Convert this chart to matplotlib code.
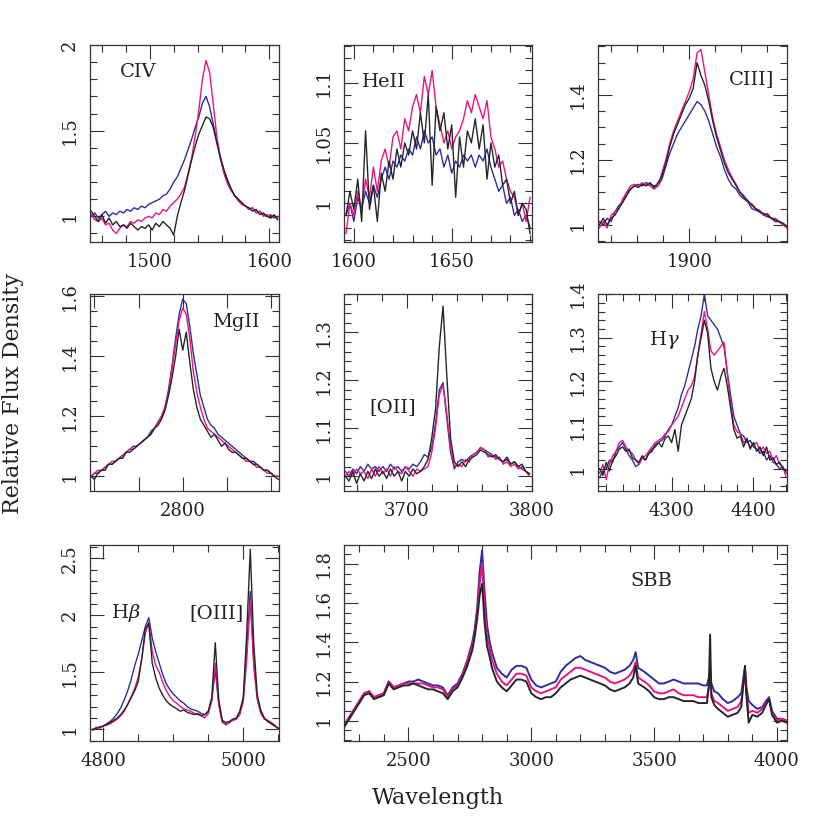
import numpy as np
import matplotlib
matplotlib.use("Agg")
import matplotlib.pyplot as plt
from matplotlib.ticker import MultipleLocator, FuncFormatter

# ---- CIV ----
civ_wave = np.arange(1451, 1608, 3)
civ_blue = [1.00, 1.02, 0.99, 1.01, 1.03, 1.00, 1.02, 1.01, 1.03, 1.02,
            1.04, 1.03, 1.05, 1.04, 1.06, 1.05, 1.07, 1.08, 1.09, 1.10,
            1.12, 1.13, 1.16, 1.20, 1.23, 1.28, 1.33, 1.39, 1.45, 1.52,
            1.58, 1.66, 1.70, 1.64, 1.54, 1.44, 1.35, 1.27, 1.21, 1.16,
            1.12, 1.10, 1.07, 1.06, 1.04, 1.05, 1.02, 1.03, 1.01, 1.00,
            1.01, 0.99, 1.00]
civ_pink = [1.01, 0.98, 0.97, 0.99, 0.95, 0.96, 0.92, 0.90, 0.93, 0.95,
            0.94, 0.97, 0.96, 0.98, 0.97, 0.99, 1.00, 0.99, 1.02, 1.01,
            1.04, 1.03, 1.06, 1.08, 1.10, 1.13, 1.17, 1.25, 1.34, 1.47,
            1.62, 1.80, 1.91, 1.84, 1.66, 1.47, 1.34, 1.25, 1.19, 1.15,
            1.12, 1.09, 1.07, 1.06, 1.04, 1.05, 1.02, 1.03, 1.00, 1.01,
            0.99, 1.00, 0.99]
civ_black = [1.03, 1.00, 0.97, 1.01, 0.96, 0.99, 0.95, 0.97, 0.94, 0.95,
             0.93, 0.96, 0.94, 0.92, 0.94, 0.93, 0.95, 0.92, 0.96, 0.94,
             0.97, 0.95, 0.93, 0.89, 1.00, 1.08, 1.15, 1.24, 1.33, 1.41,
             1.48, 1.53, 1.58, 1.57, 1.52, 1.43, 1.34, 1.27, 1.21, 1.16,
             1.12, 1.10, 1.08, 1.06, 1.05, 1.03, 1.04, 1.01, 1.02, 1.00,
             0.99, 1.01, 0.98]

# ---- HeII ----
heii_wave = np.arange(1596, 1691, 2)
heii_blue = [0.99, 1.00, 0.985, 1.005, 0.995, 1.01, 1.00, 1.015, 1.005, 1.02,
             1.03, 1.02, 1.035, 1.03, 1.04, 1.035, 1.045, 1.04, 1.055, 1.045,
             1.06, 1.05, 1.055, 1.04, 1.045, 1.03, 1.04, 1.025, 1.035, 1.03,
             1.04, 1.035, 1.04, 1.03, 1.04, 1.035, 1.045, 1.03, 1.02, 1.01,
             1.015, 1.00, 1.005, 0.99, 0.995, 0.985, 0.99, 0.98]
heii_pink = [0.975, 1.00, 0.99, 1.01, 0.995, 1.02, 1.005, 1.03, 1.01, 1.035,
             1.045, 1.03, 1.055, 1.06, 1.045, 1.07, 1.06, 1.08, 1.09, 1.075,
             1.105, 1.09, 1.11, 1.08, 1.065, 1.05, 1.06, 1.045, 1.055, 1.06,
             1.07, 1.085, 1.075, 1.09, 1.08, 1.07, 1.085, 1.055, 1.045, 1.03,
             1.035, 1.02, 1.01, 1.005, 0.99, 1.00, 0.985, 1.005]
heii_black = [0.99, 1.01, 0.995, 1.02, 0.985, 1.06, 0.995, 1.015, 0.985, 1.025,
              1.01, 1.035, 1.02, 1.045, 1.03, 1.05, 1.04, 1.06, 1.045, 1.075,
              1.05, 1.09, 1.015, 1.08, 1.06, 1.075, 1.045, 1.065, 1.005, 1.055,
              1.03, 1.06, 1.05, 1.07, 1.045, 1.065, 1.02, 1.05, 1.03, 1.04,
              1.015, 1.02, 1.00, 1.01, 0.99, 1.00, 0.995, 0.975]

# ---- CIII] ----
ciii_wave = np.arange(1831, 1976, 3)
ciii_blue = [1.01, 1.00, 1.02, 1.01, 1.04, 1.06, 1.07, 1.10, 1.11, 1.12,
             1.125, 1.12, 1.13, 1.125, 1.12, 1.12, 1.14, 1.18, 1.22, 1.25,
             1.28, 1.30, 1.32, 1.34, 1.36, 1.38, 1.37, 1.35, 1.32, 1.28,
             1.24, 1.21, 1.17, 1.14, 1.12, 1.11, 1.09, 1.08, 1.07, 1.05,
             1.045, 1.04, 1.03, 1.025, 1.02, 1.01, 1.01, 1.00, 0.995]
ciii_pink = [0.99, 1.01, 0.99, 1.03, 1.04, 1.05, 1.08, 1.10, 1.12, 1.125,
             1.12, 1.13, 1.125, 1.12, 1.11, 1.12, 1.16, 1.20, 1.25, 1.29,
             1.32, 1.35, 1.38, 1.41, 1.45, 1.53, 1.54, 1.47, 1.40, 1.33,
             1.28, 1.24, 1.20, 1.17, 1.145, 1.125, 1.10, 1.09, 1.07, 1.065,
             1.05, 1.045, 1.03, 1.035, 1.02, 1.02, 1.01, 1.00, 0.99]
ciii_black = [1.00, 1.02, 1.00, 1.02, 1.03, 1.05, 1.07, 1.09, 1.11, 1.12,
              1.115, 1.125, 1.12, 1.13, 1.115, 1.13, 1.15, 1.19, 1.24, 1.28,
              1.31, 1.34, 1.37, 1.39, 1.42, 1.50, 1.46, 1.43, 1.38, 1.32,
              1.27, 1.23, 1.19, 1.16, 1.14, 1.12, 1.10, 1.085, 1.075, 1.06,
              1.05, 1.04, 1.035, 1.03, 1.02, 1.015, 1.01, 1.005, 0.995]

# ---- MgII ----
mgii_wave = np.arange(2696, 2909, 4)
mgii_blue = [1.00, 1.01, 1.01, 1.02, 1.03, 1.04, 1.04, 1.05, 1.06, 1.07,
             1.08, 1.09, 1.10, 1.10, 1.11, 1.12, 1.13, 1.15, 1.16, 1.18,
             1.20, 1.23, 1.29, 1.37, 1.46, 1.54, 1.59, 1.575, 1.50, 1.41,
             1.34, 1.27, 1.23, 1.19, 1.17, 1.16, 1.14, 1.13, 1.12, 1.11,
             1.10, 1.09, 1.08, 1.07, 1.06, 1.05, 1.05, 1.04, 1.03, 1.02,
             1.02, 1.01, 1.00, 1.00]
mgii_pink = [1.00, 1.01, 1.02, 1.02, 1.03, 1.04, 1.05, 1.05, 1.06, 1.07,
             1.08, 1.09, 1.09, 1.10, 1.11, 1.12, 1.13, 1.14, 1.16, 1.18,
             1.20, 1.23, 1.28, 1.36, 1.44, 1.52, 1.56, 1.54, 1.46, 1.35,
             1.28, 1.23, 1.19, 1.16, 1.15, 1.14, 1.13, 1.12, 1.11, 1.10,
             1.09, 1.08, 1.07, 1.06, 1.05, 1.05, 1.04, 1.03, 1.03, 1.02,
             1.01, 1.01, 1.00, 1.00]
mgii_black = [1.00, 0.99, 1.01, 1.02, 1.02, 1.04, 1.04, 1.05, 1.06, 1.06,
              1.08, 1.08, 1.09, 1.10, 1.11, 1.12, 1.13, 1.14, 1.16, 1.17,
              1.19, 1.22, 1.27, 1.33, 1.40, 1.49, 1.42, 1.48, 1.38, 1.29,
              1.23, 1.19, 1.17, 1.15, 1.13, 1.14, 1.12, 1.10, 1.11, 1.09,
              1.08, 1.08, 1.07, 1.06, 1.06, 1.05, 1.04, 1.04, 1.03, 1.02,
              1.02, 1.01, 1.00, 0.99]

# ---- [OII] ----
oii_wave = np.arange(3651, 3799, 3)
oii_blue = [1.01, 1.00, 1.015, 1.005, 1.02, 1.01, 1.025, 1.015, 1.02, 1.01,
            1.02, 1.01, 1.025, 1.015, 1.02, 1.01, 1.02, 1.015, 1.025, 1.02,
            1.03, 1.045, 1.04, 1.06, 1.11, 1.18, 1.195, 1.12, 1.05, 1.015,
            1.03, 1.035, 1.03, 1.04, 1.045, 1.05, 1.06, 1.055, 1.05, 1.045,
            1.04, 1.035, 1.03, 1.035, 1.025, 1.03, 1.02, 1.015, 1.01, 1.005]
oii_pink = [1.00, 1.01, 1.00, 1.015, 1.005, 1.01, 0.995, 1.015, 1.00, 1.02,
            1.005, 1.015, 1.00, 1.02, 1.01, 1.005, 1.02, 1.01, 1.00, 1.015,
            1.01, 1.015, 1.02, 1.05, 1.10, 1.17, 1.19, 1.13, 1.06, 1.02,
            1.025, 1.02, 1.035, 1.03, 1.045, 1.05, 1.06, 1.055, 1.04, 1.045,
            1.035, 1.04, 1.025, 1.03, 1.02, 1.025, 1.015, 1.02, 1.01, 1.00]
oii_black = [1.00, 0.99, 1.01, 0.985, 1.005, 0.99, 1.01, 0.995, 1.015, 1.00,
             1.01, 0.995, 1.015, 1.00, 1.01, 0.99, 1.01, 1.00, 1.015, 1.005,
             1.01, 1.02, 1.035, 1.08, 1.14, 1.27, 1.355, 1.21, 1.08, 1.03,
             1.02, 1.03, 1.02, 1.035, 1.04, 1.045, 1.055, 1.05, 1.045, 1.04,
             1.045, 1.035, 1.03, 1.04, 1.025, 1.03, 1.02, 1.025, 1.01, 1.005]

# ---- Hgamma ----
hg_wave = np.arange(4212, 4441, 4)
hg_blue = [0.98, 0.995, 1.00, 1.02, 1.015, 1.04, 1.05, 1.06, 1.045, 1.03,
           1.02, 1.005, 1.01, 1.025, 1.02, 1.035, 1.045, 1.05, 1.06, 1.065,
           1.075, 1.09, 1.10, 1.12, 1.14, 1.17, 1.19, 1.22, 1.25, 1.28,
           1.32, 1.35, 1.40, 1.35, 1.34, 1.33, 1.32, 1.30, 1.28, 1.22,
           1.17, 1.12, 1.10, 1.08, 1.075, 1.06, 1.065, 1.05, 1.045, 1.035,
           1.04, 1.02, 1.03, 1.015, 1.01, 1.00, 1.005, 0.99]
hg_pink = [0.99, 1.01, 0.975, 1.01, 1.03, 1.04, 1.06, 1.065, 1.05, 1.04,
           1.035, 1.02, 1.01, 1.025, 1.03, 1.04, 1.05, 1.06, 1.065, 1.07,
           1.08, 1.085, 1.10, 1.11, 1.12, 1.14, 1.16, 1.18, 1.19, 1.21,
           1.26, 1.31, 1.36, 1.32, 1.27, 1.26, 1.27, 1.28, 1.29, 1.22,
           1.15, 1.10, 1.085, 1.08, 1.06, 1.065, 1.05, 1.055, 1.06, 1.04,
           1.05, 1.035, 1.04, 1.02, 1.03, 1.01, 1.005, 0.98]
hg_black = [1.00, 0.985, 1.015, 0.995, 1.02, 1.03, 1.045, 1.05, 1.04, 1.045,
            1.025, 1.02, 1.015, 1.03, 1.02, 1.035, 1.04, 1.055, 1.06, 1.05,
            1.07, 1.075, 1.06, 1.09, 1.04, 1.10, 1.12, 1.14, 1.16, 1.20,
            1.26, 1.30, 1.34, 1.31, 1.23, 1.20, 1.18, 1.21, 1.23, 1.19,
            1.14, 1.09, 1.07, 1.075, 1.05, 1.07, 1.045, 1.06, 1.04, 1.05,
            1.03, 1.05, 1.02, 1.025, 1.01, 1.015, 1.00, 0.995]

# ---- Hbeta + [OIII] ----
hb_wave = np.arange(4785, 5051, 5)
hb_blue = [1.00, 1.01, 1.02, 1.03, 1.05, 1.07, 1.10, 1.14, 1.19, 1.26,
           1.34, 1.44, 1.56, 1.66, 1.78, 1.90, 1.98, 1.80, 1.68, 1.58,
           1.48, 1.40, 1.35, 1.31, 1.28, 1.25, 1.23, 1.20, 1.18, 1.17,
           1.16, 1.14, 1.13, 1.15, 1.26, 1.52, 1.22, 1.07, 1.04, 1.06,
           1.08, 1.09, 1.14, 1.26, 1.70, 2.21, 1.60, 1.28, 1.15, 1.10,
           1.07, 1.05, 1.03, 1.01]
hb_pink = [0.99, 1.02, 1.01, 1.03, 1.04, 1.05, 1.07, 1.09, 1.12, 1.16,
           1.22, 1.29, 1.36, 1.46, 1.62, 1.84, 1.94, 1.68, 1.56, 1.50,
           1.41, 1.34, 1.29, 1.25, 1.23, 1.20, 1.18, 1.17, 1.16, 1.14,
           1.13, 1.12, 1.10, 1.14, 1.25, 1.58, 1.22, 1.06, 1.05, 1.06,
           1.08, 1.09, 1.13, 1.24, 1.62, 2.13, 1.55, 1.26, 1.14, 1.09,
           1.08, 1.06, 1.04, 1.00]
hb_black = [1.00, 1.01, 1.02, 1.03, 1.04, 1.06, 1.08, 1.10, 1.13, 1.17,
            1.22, 1.28, 1.34, 1.42, 1.62, 1.88, 1.93, 1.58, 1.45, 1.36,
            1.30, 1.25, 1.22, 1.20, 1.18, 1.16, 1.17, 1.15, 1.14, 1.13,
            1.14, 1.12, 1.13, 1.16, 1.28, 1.76, 1.26, 1.08, 1.06, 1.07,
            1.09, 1.10, 1.16, 1.28, 1.85, 2.58, 1.75, 1.30, 1.17, 1.10,
            1.07, 1.05, 1.03, 1.01]

# ---- full composite (SBB) ----
sbb_wave = [2240, 2260, 2280, 2300, 2320, 2340, 2360, 2380, 2400, 2420,
            2440, 2460, 2480, 2500, 2520, 2540, 2560, 2580, 2600, 2620,
            2640, 2660, 2680, 2700, 2720, 2740, 2760, 2770, 2780, 2790,
            2800, 2810, 2820, 2830, 2840, 2860, 2880, 2900, 2920, 2940,
            2960, 2980, 3000, 3020, 3040, 3060, 3080, 3100, 3120, 3140,
            3160, 3180, 3200, 3220, 3240, 3260, 3280, 3300, 3320, 3340,
            3360, 3380, 3400, 3415, 3425, 3435, 3460, 3480, 3500, 3520,
            3540, 3560, 3580, 3600, 3620, 3640, 3660, 3680, 3700, 3715,
            3723, 3728, 3733, 3745, 3760, 3780, 3800, 3820, 3840, 3855,
            3865, 3870, 3875, 3885, 3900, 3920, 3940, 3955, 3968, 3980,
            4000, 4020, 4040]
sbb_blue = [0.98, 1.02, 1.06, 1.10, 1.14, 1.15, 1.12, 1.13, 1.14, 1.20,
            1.17, 1.18, 1.19, 1.20, 1.20, 1.21, 1.20, 1.19, 1.18, 1.18,
            1.17, 1.13, 1.17, 1.19, 1.24, 1.31, 1.40, 1.47, 1.58, 1.76,
            1.87, 1.66, 1.49, 1.41, 1.35, 1.27, 1.24, 1.22, 1.26, 1.28,
            1.28, 1.27, 1.21, 1.18, 1.17, 1.18, 1.19, 1.20, 1.25, 1.28,
            1.30, 1.32, 1.33, 1.31, 1.30, 1.29, 1.28, 1.27, 1.25, 1.24,
            1.25, 1.26, 1.28, 1.31, 1.35, 1.27, 1.25, 1.23, 1.21, 1.19,
            1.19, 1.20, 1.21, 1.20, 1.19, 1.19, 1.19, 1.19, 1.18, 1.18,
            1.22, 1.27, 1.19, 1.15, 1.14, 1.11, 1.09, 1.10, 1.12, 1.14,
            1.23, 1.27, 1.18, 1.10, 1.08, 1.06, 1.07, 1.10, 1.12, 1.05,
            1.01, 1.01, 1.00]
sbb_pink = [0.98, 1.02, 1.06, 1.10, 1.14, 1.15, 1.12, 1.13, 1.14, 1.20,
            1.17, 1.18, 1.19, 1.19, 1.19, 1.19, 1.19, 1.18, 1.17, 1.17,
            1.16, 1.12, 1.16, 1.18, 1.23, 1.30, 1.38, 1.45, 1.55, 1.70,
            1.80, 1.58, 1.43, 1.37, 1.31, 1.24, 1.20, 1.18, 1.21, 1.24,
            1.24, 1.23, 1.17, 1.15, 1.14, 1.15, 1.16, 1.17, 1.21, 1.23,
            1.25, 1.27, 1.27, 1.26, 1.25, 1.24, 1.23, 1.22, 1.20, 1.19,
            1.20, 1.21, 1.23, 1.26, 1.30, 1.22, 1.20, 1.18, 1.15, 1.14,
            1.14, 1.15, 1.16, 1.14, 1.13, 1.13, 1.13, 1.12, 1.12, 1.12,
            1.17, 1.26, 1.14, 1.10, 1.09, 1.07, 1.05, 1.06, 1.07, 1.10,
            1.20, 1.26, 1.15, 1.04, 1.05, 1.04, 1.06, 1.09, 1.11, 1.04,
            1.00, 1.01, 1.00]
sbb_black = [0.97, 1.01, 1.05, 1.09, 1.13, 1.14, 1.11, 1.12, 1.13, 1.19,
             1.16, 1.17, 1.18, 1.18, 1.19, 1.18, 1.17, 1.16, 1.16, 1.15,
             1.14, 1.11, 1.15, 1.17, 1.22, 1.28, 1.36, 1.43, 1.52, 1.64,
             1.70, 1.50, 1.38, 1.33, 1.27, 1.20, 1.17, 1.15, 1.18, 1.21,
             1.21, 1.20, 1.14, 1.12, 1.11, 1.12, 1.12, 1.14, 1.17, 1.19,
             1.21, 1.22, 1.23, 1.22, 1.21, 1.20, 1.19, 1.18, 1.16, 1.15,
             1.16, 1.17, 1.19, 1.22, 1.28, 1.19, 1.17, 1.15, 1.12, 1.11,
             1.11, 1.12, 1.12, 1.11, 1.10, 1.10, 1.10, 1.09, 1.09, 1.09,
             1.18, 1.44, 1.12, 1.08, 1.06, 1.04, 1.02, 1.03, 1.04, 1.07,
             1.22, 1.28, 1.14, 0.99, 1.03, 1.02, 1.04, 1.08, 1.11, 1.03,
             0.99, 1.00, 0.99]

BLUE = "#2d2d9b"
PINK = "#e8147f"
BLACK = "#262626"
AXC = "#333333"

plt.rcParams["font.family"] = "DejaVu Serif"
plt.rcParams["mathtext.fontset"] = "dejavuserif"

fig = plt.figure(figsize=(8.3, 8.3), dpi=100)


def fmt(v, pos):
    return "%g" % round(v, 3)


def make_panel(rect, wave, blue, pink, black, xlim, ylim, xt, yt,
               labels, only=None, lw=1.0):
    ax = fig.add_axes(rect)
    for y, c in ((blue, BLUE), (pink, PINK), (black, BLACK)):
        ax.plot(wave, y, color=c, lw=lw)
    ax.set_xlim(*xlim)
    ax.set_ylim(*ylim)
    ax.xaxis.set_major_locator(MultipleLocator(xt[0]))
    ax.xaxis.set_minor_locator(MultipleLocator(xt[1]))
    ax.yaxis.set_major_locator(MultipleLocator(yt[0]))
    ax.yaxis.set_minor_locator(MultipleLocator(yt[1]))
    if only is None:
        ax.xaxis.set_major_formatter(FuncFormatter(fmt))
    else:
        ax.xaxis.set_major_formatter(
            FuncFormatter(lambda v, p: "%g" % v if abs(v - only) < 1 else ""))
    ax.yaxis.set_major_formatter(FuncFormatter(fmt))
    ax.tick_params(which="both", direction="in", top=True, right=True,
                   color=AXC, width=0.8, labelsize=13, pad=8,
                   labelcolor="#222222")
    ax.tick_params(which="major", length=10)
    ax.tick_params(which="minor", length=5)
    ax.tick_params(axis="y", labelrotation=90)
    for lab in ax.get_yticklabels():
        lab.set_va("center")
    for s in ax.spines.values():
        s.set_color(AXC)
        s.set_linewidth(0.9)
    for txt, fx, fy in labels:
        ax.text(fx, fy, txt, transform=ax.transAxes, fontsize=14,
                ha="center", va="center", color="#222222")
    return ax


c1, c2, c3 = 0.1084, 0.4145, 0.7205
w1, w2 = 0.2277, 0.2265
r1, r2, r3 = 0.7084, 0.4084, 0.1072
h = 0.2373

make_panel([c1, r1, w1, h], civ_wave, civ_blue, civ_pink, civ_black,
           (1450, 1608), (0.85, 2.0), (100, 20), (0.5, 0.1),
           [("CIV", 0.254, 0.863)])
make_panel([c2, r1, w2, h], heii_wave, heii_blue, heii_pink, heii_black,
           (1595, 1691), (0.968, 1.131), (50, 10), (0.05, 0.01),
           [("HeII", 0.213, 0.812)])
make_panel([c3, r1, w1, h], ciii_wave, ciii_blue, ciii_pink, ciii_black,
           (1830, 1975), (0.947, 1.554), (100, 20), (0.2, 0.05),
           [("CIII]", 0.81, 0.827)])
make_panel([c1, r2, w1, h], mgii_wave, mgii_blue, mgii_pink, mgii_black,
           (2695, 2909), (0.951, 1.607), (50, 50), (0.2, 0.05),
           [("MgII", 0.772, 0.858)], only=2800)
make_panel([c2, r2, w2, h], oii_wave, oii_blue, oii_pink, oii_black,
           (3650, 3800), (0.969, 1.38), (100, 20), (0.1, 0.02),
           [("[OII]", 0.26, 0.426)])
make_panel([c3, r2, w1, h], hg_wave, hg_blue, hg_pink, hg_black,
           (4210, 4441), (0.949, 1.4), (100, 20), (0.1, 0.02),
           [(r"H$\gamma$", 0.349, 0.766)])
make_panel([c1, r3, w1, 0.2361], hb_wave, hb_blue, hb_pink, hb_black,
           (4781, 5051), (0.898, 2.617), (200, 50), (0.5, 0.1),
           [(r"H$\beta$", 0.19, 0.653), ("[OIII]", 0.672, 0.653)])
make_panel([c2, r3, 0.5337, 0.2361], sbb_wave, sbb_blue, sbb_pink, sbb_black,
           (2238, 4041), (0.896, 1.897), (500, 100), (0.2, 0.05),
           [("SBB", 0.693, 0.816)], lw=1.4)

fig.text(0.0157, 0.526, "Relative Flux Density", rotation=90,
         ha="center", va="center", fontsize=16, color="#222222")
fig.text(0.5277, 0.039, "Wavelength", ha="center", va="center",
         fontsize=16, color="#222222")

fig.savefig("out.png", dpi=100)
